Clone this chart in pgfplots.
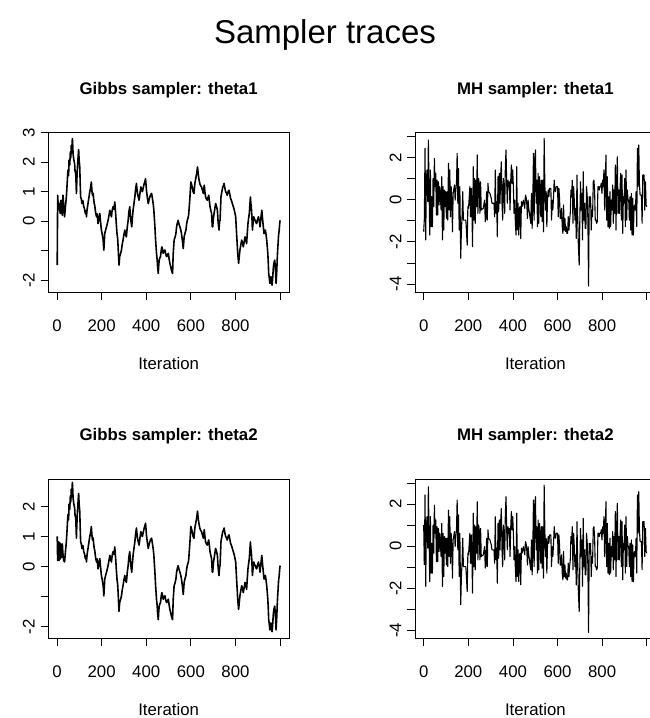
\documentclass[border=0pt]{standalone}
\usepackage{fontspec}
\setmainfont{Liberation Sans}
\usepackage{pgfplots}
\usepackage{pgfplotstable}
\pgfplotsset{compat=1.18}

% Gibbs sampler trace
\pgfplotstableread{
it val
1 -1.49
3 0.88
6 0.45
9 0.60
12 0.35
15 0.26
17 0.70
19 0.71
21 0.40
24 0.20
26 0.60
27 0.88
30 0.55
34 0.15
38 0.50
42 0.82
45 1.20
49 1.73
52 1.55
54 2.07
57 1.90
60 2.35
62 2.15
64 2.57
66 2.40
69 2.80
71 2.50
72 2.29
75 2.10
79 1.95
81 1.70
84 1.61
86 1.20
87 0.94
89 1.40
91 1.73
94 2.10
97 2.43
99 2.10
102 1.84
104 1.30
106 0.82
109 0.75
112 0.60
116 0.70
120 0.49
124 0.40
127 0.26
130 0.35
132 0.15
135 0.40
139 0.60
143 0.80
147 1.00
150 1.10
154 1.33
157 1.00
159 0.88
162 0.95
165 0.71
167 0.60
169 0.54
173 0.30
177 0.15
180 0.25
184 -0.08
188 0.10
192 0.26
195 0.00
199 -0.30
203 -0.45
207 -0.64
210 -0.98
212 -0.70
214 -0.42
218 -0.30
222 -0.19
225 -0.10
229 0.03
233 0.20
237 0.37
240 0.25
244 0.15
247 0.35
251 0.49
255 0.40
259 0.65
261 0.45
263 0.26
266 -0.10
269 -0.42
272 -0.60
274 -0.87
276 -1.20
278 -1.49
281 -1.20
285 -1.10
289 -0.98
292 -0.80
296 -0.64
300 -0.45
304 -0.30
307 -0.45
311 -0.53
315 -0.20
319 0.03
322 0.30
326 0.49
329 0.20
331 0.03
335 -0.19
338 0.10
341 0.37
345 0.60
349 0.82
352 1.05
356 1.28
359 1.05
361 0.94
365 0.80
368 0.71
372 0.95
376 1.16
380 1.05
383 1.00
387 1.15
391 1.28
394 1.35
397 1.44
399 1.25
401 1.05
405 0.80
409 0.60
412 0.70
416 0.82
420 0.90
424 0.94
427 0.80
431 0.60
434 0.40
436 0.15
439 -0.20
442 -0.64
444 -0.85
446 -1.09
449 -1.30
451 -1.55
454 -1.77
456 -1.50
458 -1.32
461 -1.25
464 -1.20
467 -1.00
470 -0.87
473 -0.95
476 -1.09
480 -1.00
484 -0.98
487 -1.10
491 -1.20
495 -1.15
499 -1.09
502 -1.25
506 -1.43
510 -1.55
513 -1.66
518 -1.77
521 -1.09
525 -0.64
529 -0.55
533 -0.42
536 -0.20
539 -0.08
543 0.03
547 -0.10
551 -0.19
555 -0.30
558 -0.42
562 -0.65
566 -0.93
570 -0.53
574 -0.40
578 -0.30
581 -0.10
584 0.03
587 0.10
590 0.20
593 0.50
596 0.82
600 1.33
603 1.25
606 1.16
610 1.00
614 0.94
618 1.28
622 1.45
626 1.61
630 1.84
633 1.60
636 1.44
640 1.28
644 1.20
648 1.16
652 1.05
656 0.94
660 1.22
663 1.00
666 0.82
670 0.75
674 0.71
677 0.80
680 0.88
683 0.70
686 0.49
690 0.35
693 0.26
696 -0.19
698 -0.19
701 0.10
704 0.26
708 0.45
711 0.60
715 0.50
719 0.37
722 0.00
726 -0.30
729 0.00
731 0.03
735 0.82
739 1.00
743 1.16
746 1.20
749 1.28
753 1.10
756 1.00
760 0.95
763 0.88
767 1.00
771 1.05
775 0.90
778 0.77
782 0.70
786 0.60
790 0.50
793 0.43
797 0.30
801 0.15
805 -0.42
808 -0.80
810 -1.09
812 -1.25
814 -1.43
817 -1.20
820 -0.98
824 -0.80
828 -0.64
832 -0.75
835 -0.87
839 -0.70
843 -0.53
847 -0.65
850 -0.76
853 -0.40
856 -0.08
859 0.10
862 0.26
865 0.60
867 0.82
869 0.60
871 0.49
874 0.10
876 -0.30
879 -0.05
882 0.15
886 0.05
889 0.03
892 -0.05
895 -0.08
899 0.05
903 0.15
907 0.00
910 -0.19
914 0.10
918 0.37
920 0.20
922 0.03
925 -0.20
928 -0.42
931 -0.35
934 -0.30
937 -0.45
940 -0.64
943 -0.90
945 -1.09
947 -1.40
949 -1.77
952 -1.95
954 -2.11
956 -2.00
958 -1.88
961 -2.05
964 -2.17
967 -1.90
970 -1.55
973 -1.40
976 -1.32
979 -1.60
982 -2.11
985 -1.70
987 -1.32
989 -1.00
991 -0.76
993 -0.50
996 -0.30
998 -0.10
1000 0.03
}\gibbs

% MH sampler trace
\pgfplotstableread{
it val
0 -1.52
3 -0.89
6 2.44
9 -1.91
12 0.93
15 1.41
18 -0.09
21 2.83
24 0.62
27 -1.68
30 1.41
33 -1.28
36 0.14
39 -1.28
42 1.01
45 -0.33
48 1.96
51 0.62
54 1.25
57 -0.73
60 0.93
63 -0.73
66 0.85
69 -0.25
72 0.62
78 -0.49
81 1.09
84 -1.91
87 0.62
90 -1.44
93 0.46
96 -0.33
99 0.38
102 -0.89
105 0.38
108 -0.97
111 1.72
114 -0.49
117 1.41
120 -0.81
123 0.62
126 0.06
129 -1.52
132 0.30
138 0.70
141 -0.02
144 0.46
147 0.78
150 2.20
153 -0.17
156 1.49
159 -1.44
162 0.62
166 -2.78
169 -1.44
172 -0.81
175 0.38
178 -0.97
189 -0.97
195 -2.15
198 -0.33
201 -0.41
207 0.62
210 -0.81
213 0.54
216 -0.41
219 -2.23
222 1.57
225 -0.97
228 1.01
231 -1.12
234 0.93
237 -0.33
240 2.12
243 -0.65
246 1.01
249 0.78
252 -0.65
255 0.85
258 -0.49
267 -0.41
273 -0.02
276 -1.04
279 -0.81
282 0.38
285 -0.97
288 0.78
291 0.38
297 0.30
303 0.06
306 -0.17
315 -0.17
318 -0.81
321 1.41
324 -0.65
327 -0.09
330 -1.76
333 1.09
336 -0.57
339 1.25
342 -0.17
345 1.17
348 1.80
351 -0.17
354 -0.97
357 1.01
360 0.62
363 -0.65
366 1.57
369 2.36
372 0.78
375 -0.17
378 0.93
381 0.62
384 0.85
387 -0.49
390 0.85
393 1.65
396 0.78
399 1.41
402 0.62
405 -0.65
408 -0.02
411 -1.12
414 -1.68
417 1.57
420 -1.44
423 -0.17
426 -1.68
429 -0.41
432 -0.33
435 -1.84
438 -0.09
441 -0.33
447 -0.02
453 -0.41
456 0.22
459 0.14
462 -0.17
465 -0.89
468 -0.02
471 -0.41
474 -0.65
480 -1.12
483 0.30
486 -1.36
489 -0.17
492 2.20
495 -0.97
498 1.80
501 2.36
504 -0.17
507 0.93
510 -1.28
513 1.25
516 -1.12
519 1.09
522 0.62
525 -0.81
528 0.93
531 -1.04
534 0.93
537 -1.52
540 2.91
543 0.78
546 -0.49
549 0.38
552 -1.28
555 0.06
558 0.46
561 0.14
564 0.54
570 0.54
573 -0.97
576 -0.02
579 -0.49
582 0.14
585 0.93
588 0.46
591 0.38
594 0.62
600 0.62
603 -0.81
606 0.54
609 0.06
612 -0.89
615 -0.89
618 -0.41
621 -1.28
624 -1.60
627 -0.25
630 -1.44
633 -0.89
636 -1.52
639 -1.28
642 -1.60
645 -1.60
648 -0.81
651 -1.44
654 -0.97
657 -0.65
660 0.46
663 0.14
666 0.93
669 -1.12
672 0.62
675 -0.02
678 -0.97
681 -0.41
684 -1.84
687 1.17
690 -0.65
693 -2.07
697 -3.10
700 -0.81
703 0.85
706 -0.49
709 0.30
712 -1.91
715 1.33
718 -0.97
721 -0.17
724 -1.36
727 -1.36
730 0.62
733 0.14
736 -0.97
739 -4.10
742 0.14
745 -0.33
748 0.14
751 -1.44
754 -0.49
757 -0.81
760 0.85
763 0.93
766 0.46
769 -0.97
772 -0.97
775 -1.12
778 -1.04
781 0.62
784 0.62
787 0.46
790 0.62
793 0.62
796 0.78
799 0.30
802 0.93
805 0.62
808 1.41
811 -0.49
814 0.78
817 2.12
820 -0.97
823 1.09
826 -1.28
829 0.14
832 -1.36
835 0.38
838 -1.28
841 -0.02
844 -0.49
847 0.70
850 -1.12
853 0.46
856 -0.65
859 1.65
862 -1.44
865 1.01
868 2.04
871 -0.65
874 0.46
877 -0.65
880 0.46
883 1.25
886 -0.97
889 1.17
892 -1.60
895 0.14
898 -0.17
901 1.01
904 -1.28
907 1.41
910 -0.97
913 0.46
916 -0.02
919 -0.02
922 -0.97
925 0.14
928 -1.44
931 0.30
934 -1.68
937 0.06
940 -1.68
943 -0.33
946 -0.25
949 -0.49
952 0.38
955 -1.28
958 2.44
961 0.62
964 2.60
967 0.78
970 0.22
976 0.22
979 -1.12
982 1.17
988 1.17
991 -0.49
994 0.85
997 -0.25
1000 -0.33
}\mh

\pgfplotsset{
  rtrace/.style={
    scale only axis, width=240.7bp, height=159.3bp,
    xmin=-38.96, xmax=1039.96,
    axis line style={line width=0.8bp},
    tick style={line width=0.8bp, black},
    tick align=outside, major tick length=7.7bp,
    xtick pos=bottom, ytick pos=left,
    xtick={0,200,400,600,800,1000},
    xticklabels={0,200,400,600,800,},
    ticklabel style={font=\fontsize{16.8bp}{20bp}\selectfont},
    xticklabel style={anchor=base, yshift=-31.6bp},
    yticklabel style={xshift=-6bp, rotate=90, anchor=base},
    xlabel={Iteration},
    xlabel style={at={(axis description cs:0.5,0)}, anchor=base, yshift=-77.5bp,
      font=\fontsize{16.8bp}{20bp}\selectfont},
    title style={at={(axis description cs:0.5,1)}, anchor=base, yshift=32.7bp,
      font=\bfseries\fontsize{16.8bp}{20bp}\selectfont},
  },
  gibbsline/.style={black, line width=1.6bp, line join=round},
  mhline/.style={black, line width=1.1bp, line join=round},
}

\begin{document}
\begin{tikzpicture}
\useasboundingbox (0,0) rectangle (650bp,718bp);
\clip (0,0) rectangle (650bp,718bp);

\node[anchor=base, font=\fontsize{33bp}{38bp}\selectfont] at (325bp,674bp) {Sampler traces};

\begin{axis}[rtrace, at={(48.3bp,426bp)}, anchor=south west,
  ymin=-2.40, ymax=3.0, ytick={-2,...,3}, yticklabels={-2,,0,1,2,3},
  title={Gibbs sampler: theta1}]
  \addplot[gibbsline] table[x=it, y=val] {\gibbs};
\end{axis}

\begin{axis}[rtrace, at={(415bp,426bp)}, anchor=south west,
  ymin=-4.38, ymax=3.18, ytick={-4,...,3}, yticklabels={-4,,-2,,0,,2,},
  title={MH sampler: theta1}]
  \addplot[mhline] table[x=it, y=val] {\mh};
\end{axis}

\begin{axis}[rtrace, at={(48.3bp,79.7bp)}, anchor=south west,
  ymin=-2.39, ymax=2.91, ytick={-2,...,2}, yticklabels={-2,,0,1,2},
  title={Gibbs sampler: theta2}]
  \addplot[gibbsline] coordinates {
    (1,1.00) (3,0.20) (6,0.82) (9,0.20) (12,0.80) (15,0.25) (17,0.75)
    (19,0.50) (21,0.30) (24,0.75) (26,0.50) (27,0.40) (30,0.20) (34,0.15)
    (38,0.50) (42,0.82)};
  \addplot[gibbsline, restrict x to domain=42:1000] table[x=it, y=val] {\gibbs};
\end{axis}

\begin{axis}[rtrace, at={(415bp,79.7bp)}, anchor=south west,
  ymin=-4.38, ymax=3.20, ytick={-4,...,3}, yticklabels={-4,,-2,,0,,2,},
  title={MH sampler: theta2}]
  \addplot[mhline] coordinates {(0,1.00) (3,-0.89)};
  \addplot[mhline, restrict x to domain=3:1000] table[x=it, y=val] {\mh};
\end{axis}
\end{tikzpicture}
\end{document}
